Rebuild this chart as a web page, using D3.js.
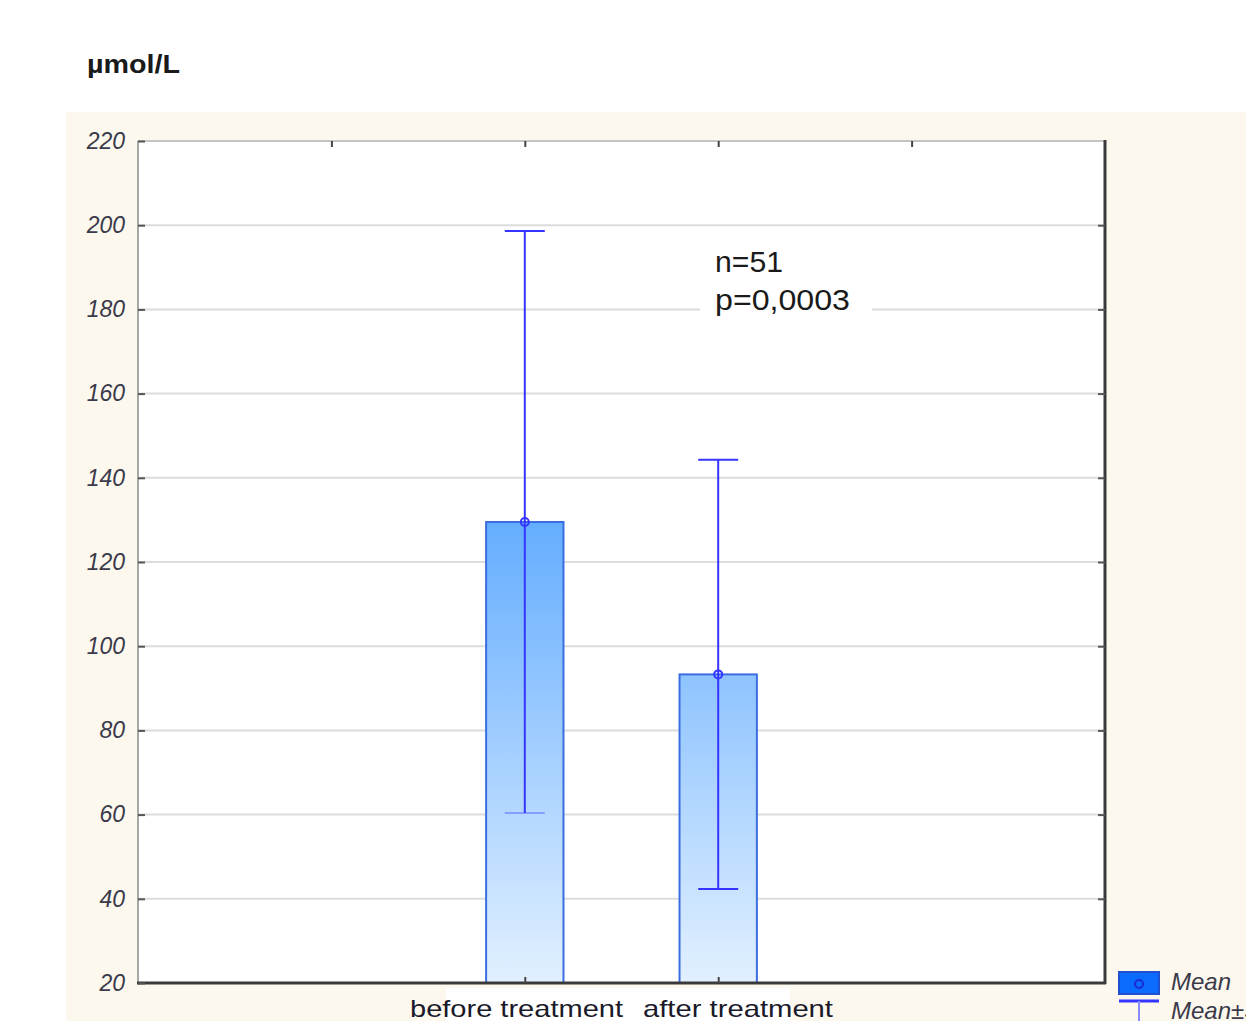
<!DOCTYPE html>
<html>
<head>
<meta charset="utf-8">
<script src="https://cdn.jsdelivr.net/npm/d3@7"></script>
<style>
  html, body { margin: 0; padding: 0; background: #ffffff; }
  svg { display: block; }
</style>
</head>
<body>
<svg id="chart" width="1246" height="1021"></svg>
<script>
// Group labels and their position on the numeric x axis
const categories = ["before treatment", "after treatment"];
const categoryPos = [2, 3];
// Mean and standard deviation per group (µmol/L)
const means = [129.5, 93.3];
const sds = [69.1, 51.0];
// Axis ticks
const yTicks = [20, 40, 60, 80, 100, 120, 140, 160, 180, 200, 220];
const xTicks = [1, 2, 3, 4];
const unitLabel = "µmol/L";
const noteLines = ["n=51", "p=0,0003"];
const legendLabels = ["Mean", "Mean±SD"];

const svg = d3.select("#chart");
const plot = { left: 138, right: 1105, top: 141, bottom: 983 };

const x = d3.scaleLinear().domain([0, 5]).range([plot.left, plot.right]);
const y = d3.scaleLinear().domain([20, 220]).range([plot.bottom, plot.top]);

// Cream panel behind the plot
svg.append("rect").attr("x", 66).attr("y", 112).attr("width", 1180).attr("height", 909)
  .attr("fill", "#fdf8ee");

// Unit caption
svg.append("text").attr("x", 87).attr("y", 73)
  .attr("font-family", "Liberation Sans, Arial, sans-serif")
  .attr("font-weight", "bold").attr("font-size", 25).attr("fill", "#1a1a1a")
  .attr("textLength", 93).attr("lengthAdjust", "spacingAndGlyphs")
  .text(unitLabel);

// Plot area
svg.append("rect").attr("x", plot.left).attr("y", plot.top)
  .attr("width", plot.right - plot.left).attr("height", plot.bottom - plot.top)
  .attr("fill", "#ffffff");

// Horizontal gridlines
svg.append("g").selectAll("line").data(yTicks.slice(1, -1)).join("line")
  .attr("x1", plot.left).attr("x2", plot.right)
  .attr("y1", d => y(d)).attr("y2", d => y(d))
  .attr("stroke", "#dcdcdc").attr("stroke-width", 2);

// Gradient for bars, spanning the plot height
const defs = svg.append("defs");
const grad = defs.append("linearGradient").attr("id", "barFill")
  .attr("gradientUnits", "userSpaceOnUse")
  .attr("x1", 0).attr("x2", 0).attr("y1", y(130)).attr("y2", y(20));
grad.append("stop").attr("offset", 0).attr("stop-color", "#64adff");
grad.append("stop").attr("offset", 1).attr("stop-color", "#e2f0ff");

// Note box with white background
const note = svg.append("g");
note.append("rect").attr("x", 700).attr("y", 240).attr("width", 172).attr("height", 78)
  .attr("fill", "#ffffff");
note.selectAll("text").data(noteLines).join("text")
  .attr("x", 715).attr("y", (d, i) => 272 + i * 38)
  .attr("font-family", "Liberation Sans, Arial, sans-serif")
  .attr("font-size", 29).attr("fill", "#1a1a1a")
  .attr("textLength", (d, i) => i === 0 ? 68 : 135).attr("lengthAdjust", "spacingAndGlyphs")
  .text(d => d);

// Bars
const barHalf = 0.2;
const data = categories.map((c, i) => ({ c, pos: categoryPos[i], mean: means[i], sd: sds[i] }));
svg.append("g").selectAll("rect").data(data).join("rect")
  .attr("x", d => x(d.pos - barHalf))
  .attr("width", d => x(d.pos + barHalf) - x(d.pos - barHalf))
  .attr("y", d => y(d.mean))
  .attr("height", d => y(20) - y(d.mean))
  .attr("fill", "url(#barFill)")
  .attr("stroke", "#3a6ee0").attr("stroke-width", 2);

// Error bars (mean ± SD)
const capHalf = 20;
const eb = svg.append("g").attr("stroke", "#3535ff").attr("stroke-width", 2).attr("fill", "none");
eb.selectAll("line.v").data(data).join("line").attr("class", "v")
  .attr("x1", d => x(d.pos)).attr("x2", d => x(d.pos))
  .attr("y1", d => y(d.mean + d.sd)).attr("y2", d => y(d.mean - d.sd));
eb.selectAll("line.top").data(data).join("line").attr("class", "top")
  .attr("x1", d => x(d.pos) - capHalf).attr("x2", d => x(d.pos) + capHalf)
  .attr("y1", d => y(d.mean + d.sd)).attr("y2", d => y(d.mean + d.sd));
eb.selectAll("line.bot").data(data).join("line").attr("class", "bot")
  .attr("x1", d => x(d.pos) - capHalf).attr("x2", d => x(d.pos) + capHalf)
  .attr("y1", d => y(d.mean - d.sd)).attr("y2", d => y(d.mean - d.sd))
  .attr("stroke-opacity", (d, i) => i === 0 ? 0.35 : 1);
eb.selectAll("circle").data(data).join("circle")
  .attr("cx", d => x(d.pos)).attr("cy", d => y(d.mean)).attr("r", 4);

// Frame: light top/left, heavy right/bottom
const frame = svg.append("g");
frame.append("line").attr("x1", plot.left).attr("x2", plot.right).attr("y1", plot.top).attr("y2", plot.top)
  .attr("stroke", "#c4c4c4").attr("stroke-width", 2);
frame.append("line").attr("x1", plot.left).attr("x2", plot.left).attr("y1", plot.top).attr("y2", plot.bottom)
  .attr("stroke", "#a8a8a8").attr("stroke-width", 2);
frame.append("line").attr("x1", plot.right).attr("x2", plot.right).attr("y1", plot.top - 1).attr("y2", plot.bottom + 1)
  .attr("stroke", "#3a3a3a").attr("stroke-width", 3);
frame.append("line").attr("x1", plot.left - 1).attr("x2", plot.right + 1).attr("y1", plot.bottom).attr("y2", plot.bottom)
  .attr("stroke", "#3a3a3a").attr("stroke-width", 3);

// Y axis (left): inward ticks, italic labels
const yAxisL = svg.append("g").attr("transform", `translate(${plot.left},0)`)
  .call(d3.axisLeft(y).tickValues(yTicks).tickSizeInner(-7).tickSizeOuter(0).tickPadding(13));
yAxisL.select(".domain").remove();
yAxisL.selectAll(".tick line").attr("stroke", "#555").attr("stroke-width", 2);
yAxisL.selectAll(".tick text")
  .attr("font-family", "Liberation Sans, Arial, sans-serif")
  .attr("font-style", "italic").attr("font-size", 23).attr("fill", "#3a3a4a");

// Y axis (right): inward ticks only
const yAxisR = svg.append("g").attr("transform", `translate(${plot.right},0)`)
  .call(d3.axisRight(y).tickValues(yTicks.slice(1, -1)).tickSizeInner(-7).tickSizeOuter(0).tickFormat(""));
yAxisR.select(".domain").remove();
yAxisR.selectAll(".tick line").attr("stroke", "#555").attr("stroke-width", 2);

// Top axis: inward ticks
const xAxisT = svg.append("g").attr("transform", `translate(0,${plot.top})`)
  .call(d3.axisTop(x).tickValues(xTicks).tickSizeInner(-6).tickSizeOuter(0).tickFormat(""));
xAxisT.select(".domain").remove();
xAxisT.selectAll(".tick line").attr("stroke", "#444").attr("stroke-width", 2);

// Bottom axis: inward ticks at group positions
const xAxisB = svg.append("g").attr("transform", `translate(0,${plot.bottom})`)
  .call(d3.axisBottom(x).tickValues(categoryPos).tickSizeInner(-6).tickSizeOuter(0).tickFormat(""));
xAxisB.select(".domain").remove();
xAxisB.selectAll(".tick line").attr("stroke", "#444").attr("stroke-width", 2);

// Category labels on a white strip
svg.append("rect").attr("x", 446).attr("y", 988).attr("width", 344).attr("height", 33).attr("fill", "#ffffff");
const labelSpans = [[410, 213], [643, 190]];
svg.append("g").selectAll("text").data(categories).join("text")
  .attr("x", (d, i) => labelSpans[i][0]).attr("y", 1017)
  .attr("font-family", "Liberation Sans, Arial, sans-serif")
  .attr("font-size", 24).attr("fill", "#1a1a2a")
  .attr("textLength", (d, i) => labelSpans[i][1]).attr("lengthAdjust", "spacingAndGlyphs")
  .text(d => d);

// Legend
const lg = svg.append("g");
lg.append("rect").attr("x", 1119).attr("y", 972).attr("width", 40).attr("height", 22)
  .attr("fill", "#0a6cff").attr("stroke", "#2050d0").attr("stroke-width", 2);
lg.append("circle").attr("cx", 1139).attr("cy", 984).attr("r", 4)
  .attr("fill", "none").attr("stroke", "#1b2bd0").attr("stroke-width", 2);
lg.append("line").attr("x1", 1119).attr("x2", 1159).attr("y1", 1001).attr("y2", 1001)
  .attr("stroke", "#3535ff").attr("stroke-width", 3);
lg.append("line").attr("x1", 1139).attr("x2", 1139).attr("y1", 1001).attr("y2", 1021)
  .attr("stroke", "#8a8aff").attr("stroke-width", 2);
lg.selectAll("text").data(legendLabels).join("text")
  .attr("x", 1171).attr("y", (d, i) => 990 + i * 29)
  .attr("font-family", "Liberation Sans, Arial, sans-serif")
  .attr("font-style", "italic").attr("font-size", 24).attr("fill", "#3a3a4a")
  .text(d => d);
</script>
</body>
</html>
